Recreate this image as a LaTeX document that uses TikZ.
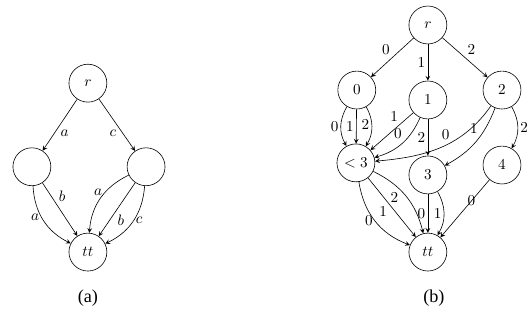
\documentclass[tikz,border=0pt]{standalone}
\usepackage{fontspec}
\newfontfamily\capfont{Liberation Serif}
\usetikzlibrary{arrows}
\begin{document}
\begin{tikzpicture}[>=stealth,
  state/.style={draw,circle,minimum size=0.88cm,inner sep=0pt},
  lbl/.style={inner sep=1.5pt},
  captxt/.style={font=\capfont\large}]
\useasboundingbox (0,0) rectangle (12.30,-7.63);

% (a)
\node[state] (ar) at (2.04,-1.93) {$r$};
\node[state] (al) at (0.74,-3.87) {};
\node[state] (aq) at (3.39,-3.87) {};
\node[state] (att) at (2.04,-5.85) {$tt$};
\node[captxt] (capa) at (2.04,-6.91) {(a)};

\draw[->] (ar) -- node[lbl,below right,pos=0.55] {$a$} (al);
\draw[->] (ar) -- node[lbl,below left,pos=0.55] {$c$} (aq);
\draw[->] (al) to[bend right=30] node[lbl,left,pos=0.45] {$a$} (att);
\draw[->] (al) -- node[lbl,above right,pos=0.4] {$b$} (att);
\draw[->] (aq) to[bend right=30] node[lbl,left,pos=0.4] {$a$} (att);
\draw[->] (aq) -- node[lbl,below right,pos=0.55] {$b$} (att);
\draw[->] (aq) to[bend left=30] node[lbl,right,pos=0.5] {$c$} (att);

% (b)
\node[state] (br) at (9.93,-0.58) {$r$};
\node[state] (b0) at (8.28,-2.09) {$0$};
\node[state] (b1) at (9.93,-2.32) {$1$};
\node[state] (b2) at (11.65,-2.09) {$2$};
\node[state] (blt) at (8.26,-3.78) {$<3$};
\node[state] (b3) at (9.93,-4.06) {$3$};
\node[state] (b4) at (11.65,-3.83) {$4$};
\node[state] (btt) at (9.93,-5.85) {$tt$};
\node[captxt] (capb) at (10.07,-6.91) {(b)};

\draw[->] (br) -- node[lbl,above left] {$0$} (b0);
\draw[->] (br) -- node[lbl,left] {$1$} (b1);
\draw[->] (br) -- node[lbl,above right] {$2$} (b2);

\draw[->] (b0) to[bend right=30] node[lbl,left] {$0$} (blt);
\draw[->] (b0) -- node[lbl,left] {$1$} (blt);
\draw[->] (b0) to[bend left=30] node[lbl,left,pos=0.45] {$2$} (blt);

\draw[->] (b1) -- node[lbl,above left,pos=0.3] {$1$} (blt);
\draw[->] (b1) to[bend left=25] node[lbl,above left,pos=0.45] {$0$} (blt);
\draw[->] (b1) -- node[lbl,left] {$2$} (b3);

\draw[->] (b2) to[out=-125,in=5] node[lbl,above left,pos=0.4] {$0$} (blt);
\draw[->] (b2) to[bend left=20] node[lbl,above left,pos=0.4] {$1$} (b3);
\draw[->] (b2) to[bend left=30] node[lbl,right] {$2$} (b4);

\draw[->] (blt) to[bend right=30] node[lbl,left,pos=0.5] {$0$} (btt);
\draw[->] (blt) -- node[lbl,below left,pos=0.45] {$1$} (btt);
\draw[->] (blt) to[bend left=25] node[lbl,below left,pos=0.4] {$2$} (btt);

\draw[->] (b3) -- node[lbl,left] {$0$} (btt);
\draw[->] (b3) to[bend left=30] node[lbl,left,pos=0.5] {$1$} (btt);

\draw[->] (b4) -- node[lbl,above right] {$0$} (btt);
\end{tikzpicture}
\end{document}
